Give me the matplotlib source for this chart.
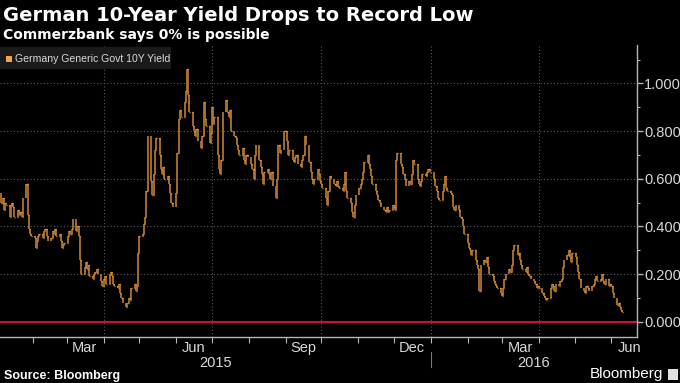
import matplotlib
matplotlib.use("Agg")
import matplotlib.pyplot as plt
import matplotlib.dates as mdates
import matplotlib.ticker as mticker
from matplotlib import font_manager
from matplotlib.patches import Rectangle
import numpy as np
import pandas as pd

# daily closing yield (%), business days from 2015-01-02, one row per month
Y_JAN15 = [0.54, 0.50, 0.52, 0.47, 0.50, 0.49, 0.44, 0.49, 0.50, 0.48, 0.44, 0.47, 0.45, 0.46, 0.44, 0.52, 0.58, 0.45, 0.39, 0.37, 0.36]
Y_FEB15 = [0.35, 0.31, 0.34, 0.36, 0.37, 0.35, 0.38, 0.39, 0.36, 0.34, 0.35, 0.38, 0.37, 0.39, 0.36, 0.37, 0.34, 0.31, 0.32, 0.33]
Y_MAR15 = [0.36, 0.38, 0.37, 0.39, 0.43, 0.38, 0.40, 0.36, 0.26, 0.20, 0.23, 0.25, 0.22, 0.24, 0.19, 0.18, 0.20, 0.21, 0.22, 0.20, 0.17, 0.15]
Y_APR15 = [0.18, 0.19, 0.16, 0.20, 0.21, 0.19, 0.16, 0.15, 0.14, 0.16, 0.12, 0.10, 0.08, 0.06, 0.08, 0.10, 0.09, 0.14, 0.16, 0.13, 0.15, 0.29]
Y_MAY15 = [0.36, 0.37, 0.41, 0.44, 0.55, 0.78, 0.59, 0.53, 0.62, 0.72, 0.77, 0.70, 0.64, 0.62, 0.65, 0.60, 0.61, 0.58, 0.54, 0.50, 0.48]
Y_JUN15 = [0.54, 0.71, 0.85, 0.89, 0.86, 0.92, 0.97, 1.06, 0.95, 0.88, 0.82, 0.80, 0.78, 0.81, 0.76, 0.73, 0.78, 0.92, 0.85, 0.82, 0.75, 0.79]
Y_JUL15 = [0.90, 0.83, 0.86, 0.70, 0.64, 0.62, 0.68, 0.88, 0.93, 0.88, 0.86, 0.89, 0.80, 0.78, 0.77, 0.74, 0.72, 0.70, 0.73, 0.68, 0.66, 0.70, 0.69]
Y_AUG15 = [0.66, 0.64, 0.60, 0.70, 0.74, 0.68, 0.65, 0.62, 0.58, 0.63, 0.64, 0.62, 0.60, 0.63, 0.57, 0.52, 0.60, 0.74, 0.71, 0.72, 0.80]
Y_SEP15 = [0.80, 0.76, 0.70, 0.72, 0.68, 0.67, 0.69, 0.70, 0.66, 0.65, 0.68, 0.70, 0.78, 0.74, 0.67, 0.63, 0.60, 0.58, 0.60, 0.64, 0.62, 0.59]
Y_OCT15 = [0.58, 0.56, 0.52, 0.49, 0.55, 0.61, 0.60, 0.58, 0.57, 0.59, 0.57, 0.56, 0.55, 0.58, 0.63, 0.55, 0.52, 0.50, 0.46, 0.44, 0.49, 0.53]
Y_NOV15 = [0.56, 0.58, 0.60, 0.63, 0.67, 0.70, 0.66, 0.64, 0.61, 0.58, 0.55, 0.53, 0.51, 0.50, 0.48, 0.47, 0.46, 0.48, 0.46, 0.47, 0.49]
Y_DEC15 = [0.48, 0.47, 0.68, 0.71, 0.66, 0.65, 0.62, 0.60, 0.57, 0.59, 0.58, 0.62, 0.68, 0.66, 0.60, 0.58, 0.57, 0.59, 0.62, 0.61, 0.63, 0.64, 0.63]
Y_JAN16 = [0.63, 0.60, 0.57, 0.55, 0.52, 0.51, 0.55, 0.58, 0.61, 0.56, 0.55, 0.54, 0.53, 0.48, 0.47, 0.49, 0.47, 0.44, 0.43, 0.40, 0.37]
Y_FEB16 = [0.33, 0.31, 0.30, 0.28, 0.30, 0.26, 0.24, 0.22, 0.13, 0.24, 0.26, 0.25, 0.27, 0.23, 0.20, 0.19, 0.17, 0.16, 0.15, 0.14, 0.12]
Y_MAR16 = [0.11, 0.14, 0.18, 0.20, 0.22, 0.21, 0.24, 0.30, 0.32, 0.28, 0.29, 0.26, 0.24, 0.22, 0.21, 0.23, 0.20, 0.19, 0.18, 0.17, 0.16, 0.14, 0.15]
Y_APR16 = [0.14, 0.12, 0.11, 0.10, 0.09, 0.10, 0.14, 0.16, 0.15, 0.13, 0.16, 0.15, 0.17, 0.18, 0.23, 0.26, 0.28, 0.30, 0.27, 0.25, 0.29]
Y_MAY16 = [0.27, 0.24, 0.21, 0.18, 0.14, 0.13, 0.12, 0.15, 0.14, 0.13, 0.15, 0.16, 0.18, 0.19, 0.17, 0.18, 0.20, 0.17, 0.16, 0.18, 0.15, 0.16]
Y_JUN16 = [0.15, 0.12, 0.10, 0.07, 0.08, 0.06, 0.05, 0.04]

START_DATE = "2015-01-02"
X_LEFT = "2015-01-03 20:00"
X_RIGHT = "2016-06-22 12:00"
Y_TICKS = [0.0, 0.2, 0.4, 0.6, 0.8, 1.0]
MONTH_LABELS = {3: "Mar", 6: "Jun", 9: "Sep", 12: "Dec"}
YEARS = [2015, 2016]

BG = "black"
C_BAR = "#b07430"
C_TICK = "#f4a53c"
C_GRID = "#5a5a5a"
C_AXIS = "#b4b4b4"
C_TEXT = "#d8d8d8"
C_RED = "#cc1030"

avail = {f.name for f in font_manager.fontManager.ttflist}
NARROW = "Liberation Sans Narrow" if "Liberation Sans Narrow" in avail else "Liberation Sans"
plt.rcParams["font.family"] = [NARROW, "DejaVu Sans"]

closes = np.array(Y_JAN15 + Y_FEB15 + Y_MAR15 + Y_APR15 + Y_MAY15 + Y_JUN15 + Y_JUL15
                  + Y_AUG15 + Y_SEP15 + Y_OCT15 + Y_NOV15 + Y_DEC15 + Y_JAN16 + Y_FEB16
                  + Y_MAR16 + Y_APR16 + Y_MAY16 + Y_JUN16)
dates = pd.bdate_range(START_DATE, periods=len(closes))
x = mdates.date2num(dates.to_pydatetime())
opens = np.r_[closes[0], closes[:-1]]
lo = np.minimum(opens, closes)
hi = np.maximum(opens, closes)

fig = plt.figure(figsize=(6.8, 3.83), dpi=100, facecolor=BG)
ax = fig.add_axes([0.0, 0.12, 0.9368, 0.7625], facecolor=BG)

x0, x1 = mdates.datestr2num(X_LEFT), mdates.datestr2num(X_RIGHT)
ax.set_xlim(x0, x1)
ax.set_ylim(-0.064, 1.161)

# grid
for yv in Y_TICKS[1:]:
    ax.axhline(yv, color=C_GRID, lw=0.8, ls=(0, (1, 2)), zorder=1)
for d in ["2015-04-01", "2015-07-01", "2015-10-01", "2016-01-01", "2016-04-01"]:
    ax.axvline(mdates.datestr2num(d), color=C_GRID, lw=0.8, ls=(0, (1, 2)), zorder=1)
ax.axhline(0.0, color=C_RED, lw=1.5, zorder=2)

# OHLC style bars
ax.vlines(x, lo, hi, color=C_BAR, lw=1.3, zorder=3)
ax.hlines(opens, x - 0.5, x, color=C_TICK, lw=1.0, zorder=4)
ax.hlines(closes, x, x + 0.5, color=C_TICK, lw=1.0, zorder=4)

# axes styling
for s in ("top", "left"):
    ax.spines[s].set_visible(False)
for s in ("right", "bottom"):
    ax.spines[s].set_color(C_AXIS)
    ax.spines[s].set_linewidth(1.0)

ax.yaxis.tick_right()
ax.set_yticks(Y_TICKS)
ax.yaxis.set_major_formatter(mticker.FormatStrFormatter("%.3f"))
ax.yaxis.set_minor_locator(mticker.MultipleLocator(0.1))
ax.tick_params(axis="y", which="major", colors=C_AXIS, labelcolor=C_TEXT,
               length=4, width=1, pad=1, labelsize=10.5)
ax.tick_params(axis="y", which="minor", colors=C_AXIS, length=2, width=0.8)

ax.xaxis.set_major_locator(mdates.MonthLocator())
ax.xaxis.set_major_formatter(mticker.NullFormatter())
ax.xaxis.set_minor_locator(mdates.MonthLocator(bymonthday=16))
ax.xaxis.set_minor_formatter(mticker.FuncFormatter(
    lambda v, p: MONTH_LABELS.get(mdates.num2date(v).month, "")))
ax.tick_params(axis="x", which="major", colors=C_AXIS, length=4, width=0.8)
ax.tick_params(axis="x", which="minor", length=0, labelcolor=C_TEXT,
               labelsize=10.5, pad=3)

# year labels and separator
trans = ax.get_xaxis_transform()
for yr in YEARS:
    a = max(mdates.datestr2num(f"{yr}-01-01"), x0)
    b = min(mdates.datestr2num(f"{yr + 1}-01-01"), x1)
    ax.text((a + b) / 2, -0.088, str(yr), transform=trans, ha="center", va="center",
            color=C_TEXT, fontsize=10.5)
xs = mdates.datestr2num("2016-01-01")
ax.plot([xs, xs], [-0.052, -0.104], transform=trans, color="#777777", lw=0.8, clip_on=False)

# legend box
fig.patches.append(Rectangle((0, 1 - 69 / 383), 171 / 680, 22 / 383, transform=fig.transFigure,
                             facecolor="#1a1a1a", edgecolor="none", zorder=5))
fig.patches.append(Rectangle((6 / 680, 1 - 62 / 383), 6 / 680, 6 / 383, transform=fig.transFigure,
                             facecolor="#f5a540", edgecolor="none", zorder=6))
fig.text(15 / 680, 1 - 58.5 / 383, "Germany Generic Govt 10Y Yield", color=C_TEXT,
         fontsize=7.6, va="center", ha="left", zorder=7)

# titles
fig.text(3 / 680, 1 - 20.7 / 383, "German 10-Year Yield Drops to Record Low",
         color="white", fontsize=14, fontweight="bold", family=["DejaVu Sans"],
         va="baseline", ha="left")
fig.text(3 / 680, 1 - 39.5 / 383, "Commerzbank says 0% is possible",
         color="white", fontsize=10, fontweight="bold", family=["DejaVu Sans"],
         va="baseline", ha="left")

# footer
fig.text(4 / 680, 1 - 376 / 383, "Source: Bloomberg", color="white", fontsize=9,
         fontweight="bold", va="center", ha="left")
fig.text(663 / 680, 1 - 374 / 383, "Bloomberg", color="white", fontsize=11,
         va="center", ha="right")
fig.patches.append(Rectangle((668 / 680, 1 - 380 / 383), 10 / 680, 11 / 383,
                             transform=fig.transFigure, facecolor="#e0e0e0", edgecolor="none"))

fig.savefig("out.png", dpi=100, facecolor=BG)
